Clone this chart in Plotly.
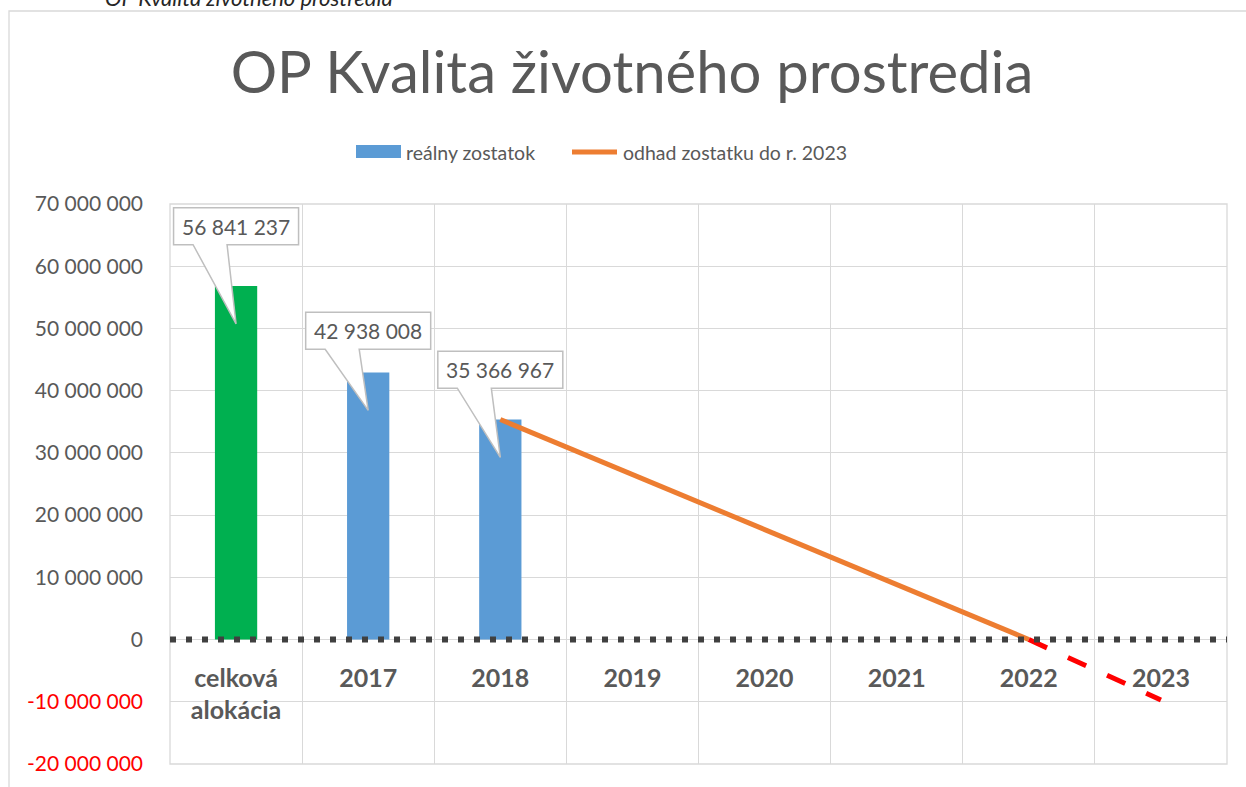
import plotly.graph_objects as go

# ---------------- data ----------------
categories = ["celková alokácia", "2017", "2018", "2019", "2020", "2021", "2022", "2023"]
category_labels = ["celková<br>alokácia", "2017", "2018", "2019", "2020", "2021", "2022", "2023"]

bar_categories = ["celková alokácia", "2017", "2018"]
bar_values = [56841237, 42938008, 35366967]
bar_label_texts = ["56 841 237", "42 938 008", "35 366 967"]

estimate_categories = ["2018", "2019", "2020", "2021", "2022"]
estimate_values = [35366967, 26500000, 17650000, 8800000, 0]

negative_categories = ["2022", "2023"]
negative_values = [0, -9700000]

y_tick_values = [-20000000, -10000000, 0, 10000000, 20000000, 30000000, 40000000, 50000000, 60000000, 70000000]
y_tick_labels = ["-20 000 000", "-10 000 000", "0", "10 000 000", "20 000 000", "30 000 000",
                 "40 000 000", "50 000 000", "60 000 000", "70 000 000"]

# ---------------- style ----------------
W, H = 1246, 787
L, R, T, B = 170, 1227, 204, 764
Y_MIN, Y_MAX = -20000000, 70000000
FONT = "Lato"
TXT = "#595959"
GRID = "#d9d9d9"
bar_colors = ["#00B050", "#5B9BD5", "#5B9BD5"]

def px_x(px):
    return (px - L) / (R - L)

def px_y(py):
    return (B - py) / (B - T)

cat_per_px = len(categories) / (R - L)
val_per_px = (Y_MAX - Y_MIN) / (B - T)

fig = go.Figure()

fig.add_trace(go.Bar(
    x=bar_categories, y=bar_values, name="reálny zostatok",
    marker=dict(color=bar_colors, line=dict(width=0)), width=0.32,
    showlegend=False, hoverinfo="skip"))

fig.add_trace(go.Scatter(
    x=estimate_categories, y=estimate_values, mode="lines",
    name="odhad zostatku do r. 2023",
    line=dict(color="#ED7D31", width=5), showlegend=False))

fig.add_trace(go.Scatter(
    x=negative_categories, y=negative_values, mode="lines",
    line=dict(color="#FF0000", width=5, dash="20px,23px"), showlegend=False))

shapes = []
annotations = []

# outer chart frame
shapes.append(dict(type="rect", xref="paper", yref="paper",
                   x0=px_x(9), y0=px_y(830), x1=px_x(1300), y1=px_y(11),
                   line=dict(color=GRID, width=1.3), fillcolor="rgba(0,0,0,0)", layer="below"))

# dotted zero line
shapes.append(dict(type="line", xref="paper", yref="y", x0=0, x1=1, y0=0, y1=0,
                   line=dict(color="#404040", width=6, dash="6px,10px"), layer="above"))

# callouts
box_offsets = [9600000, 6700000, 8000000]
tip_offset = 6100000
half_w = 62.5 * cat_per_px
half_h = 18.5 * val_per_px
base_l = 43 * cat_per_px
base_r = 9 * cat_per_px
for i, (cat, val, txt) in enumerate(zip(bar_categories, bar_values, bar_label_texts)):
    cx = categories.index(cat)
    cy = val + box_offsets[i]
    ty = val - tip_offset
    top = cy + half_h
    bot = cy - half_h
    path = (f"M{cx-half_w},{top} L{cx+half_w},{top} L{cx+half_w},{bot} "
            f"L{cx-base_r},{bot} L{cx},{ty} L{cx-base_l},{bot} L{cx-half_w},{bot} Z")
    shapes.append(dict(type="path", xref="x", yref="y", path=path,
                       fillcolor="white", line=dict(color="#BFBFBF", width=1.5), layer="above"))
    annotations.append(dict(x=cx, y=cy, xref="x", yref="y", text=txt, showarrow=False,
                            font=dict(family=FONT, size=21, color=TXT),
                            xanchor="center", yanchor="middle"))

# legend (manual)
shapes.append(dict(type="rect", xref="paper", yref="paper",
                   x0=px_x(356), x1=px_x(401), y0=px_y(158), y1=px_y(145),
                   fillcolor="#5B9BD5", line=dict(width=0)))
annotations.append(dict(xref="paper", yref="paper", x=px_x(404), y=px_y(152),
                        text="reálny zostatok", showarrow=False, xanchor="left", yanchor="middle",
                        font=dict(family=FONT, size=19.5, color=TXT)))
shapes.append(dict(type="line", xref="paper", yref="paper",
                   x0=px_x(572), x1=px_x(617), y0=px_y(152), y1=px_y(152),
                   line=dict(color="#ED7D31", width=5)))
annotations.append(dict(xref="paper", yref="paper", x=px_x(621), y=px_y(152),
                        text="odhad zostatku do r. 2023", showarrow=False, xanchor="left", yanchor="middle",
                        font=dict(family=FONT, size=19.5, color=TXT)))

# cut-off caption at very top (as in the source image)
annotations.append(dict(xref="paper", yref="paper", x=px_x(103), y=px_y(13),
                        text="<i>OP Kvalita životného prostredia</i>", showarrow=False,
                        xanchor="left", yanchor="bottom",
                        font=dict(family=FONT, size=22, color="#262626")))

y_ticktext = [f"<span style='color:#FF0000'>{t}</span>" if v < 0 else t
              for v, t in zip(y_tick_values, y_tick_labels)]

fig.update_layout(
    width=W, height=H,
    margin=dict(l=L, r=W - R, t=T, b=H - B, pad=0),
    paper_bgcolor="white", plot_bgcolor="white",
    title=dict(text="OP Kvalita životného prostredia", x=px_x(632), xref="paper",
               y=1 - 73 / H, yref="container", xanchor="center", yanchor="middle",
               font=dict(family=FONT, size=58, color=TXT)),
    showlegend=False,
    shapes=shapes, annotations=annotations,
    xaxis=dict(type="category", categoryorder="array", categoryarray=categories,
               range=[-0.5, len(categories) - 0.5],
               tickmode="array", tickvals=categories, ticktext=category_labels,
               anchor="free", position=(0 - Y_MIN) / (Y_MAX - Y_MIN),
               tickson="boundaries", showgrid=True, gridcolor=GRID, gridwidth=1.3,
               ticks="", showline=False, zeroline=False,
               ticklabelstandoff=21,
               tickfont=dict(family=FONT, size=25, color=TXT, weight="bold")),
    yaxis=dict(range=[Y_MIN, Y_MAX], tickmode="array", tickvals=y_tick_values, ticktext=y_ticktext,
               showgrid=True, gridcolor=GRID, gridwidth=1.3, zeroline=False,
               showline=False, ticks="", ticklabelstandoff=26,
               tickfont=dict(family=FONT, size=21, color=TXT)),
)

# plot area border (matches edge gridlines)
fig.add_shape(type="rect", xref="paper", yref="paper", x0=0, x1=1, y0=0, y1=1,
              line=dict(color=GRID, width=1.3), fillcolor="rgba(0,0,0,0)", layer="below")

fig.write_html("out.html", config={"displayModeBar": False},
               post_script="document.body.style.margin='0';document.body.style.overflow='hidden';")
